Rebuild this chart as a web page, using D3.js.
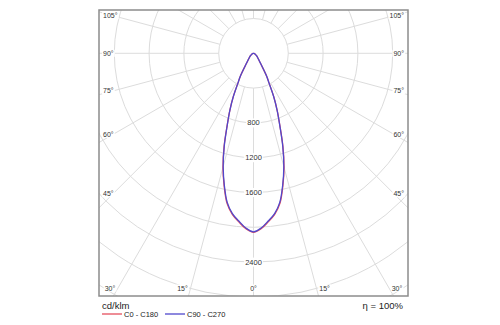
<!DOCTYPE html>
<html><head><meta charset="utf-8">
<script src="https://cdn.jsdelivr.net/npm/d3@7"></script>
<style>body{margin:0;background:#fff}svg{display:block}</style>
</head><body>
<svg id="c" width="500" height="325"></svg>
<script>
// ---- data ----
const angles   = [0, 2.5, 5, 7.5, 10, 12.5, 15, 17.5, 20, 22.5, 25, 27.5, 30, 35, 40, 45, 50, 60, 70, 80, 90];
const c0c180   = [2058, 2018, 1945, 1868, 1752, 1560, 1356, 1125, 888, 712, 550, 392, 298, 140, 90, 65, 48, 25, 12, 5, 0];
const c90c270  = [2052, 2010, 1935, 1858, 1740, 1550, 1346, 1118, 884, 710, 548, 390, 296, 140, 90, 65, 48, 25, 12, 5, 0];
const ringValues  = [400, 800, 1200, 1600, 2000, 2400, 2800, 3200, 3600];
const ringLabels  = [800, 1200, 1600, 2400];
const rayAngles   = d3.range(0, 360, 15);
const bottomLabels = [-30, -15, 0, 15, 30];
const sideLabels   = [45, 60, 75, 90, 105];
const seriesNames  = ["C0 - C180", "C90 - C270"];
const unitLabel = "cd/klm";
const effLabel  = "\u03B7 = 100%";

// ---- layout ----
const svg = d3.select("#c");
const frame = {x: 99, y: 10, w: 309, h: 286};
const cx = frame.x + frame.w / 2, cy = 53.3;
const r = d3.scaleLinear().domain([0, 400]).range([0, 34.8]);
const font = "'Liberation Sans', Arial, sans-serif";
const colors = ["#e5505e", "#5048cc"];
const rad = d => d * Math.PI / 180;

svg.append("rect").attr("width", 500).attr("height", 325).attr("fill", "#fff");
svg.append("clipPath").attr("id", "clip").append("rect")
  .attr("x", frame.x).attr("y", frame.y).attr("width", frame.w).attr("height", frame.h);

const grid = svg.append("g").attr("clip-path", "url(#clip)");
grid.selectAll("circle").data(ringValues).join("circle")
  .attr("cx", cx).attr("cy", cy).attr("r", d => r(d))
  .attr("fill", "none").attr("stroke", "#dcdcdc").attr("stroke-width", 1);
grid.selectAll("line").data(rayAngles).join("line")
  .attr("x1", d => cx + r(400) * Math.sin(rad(d)))
  .attr("y1", d => cy + r(400) * Math.cos(rad(d)))
  .attr("x2", d => cx + r(6000) * Math.sin(rad(d)))
  .attr("y2", d => cy + r(6000) * Math.cos(rad(d)))
  .attr("stroke", "#dcdcdc").attr("stroke-width", 1);

// labels with white background
function label(g, x, y, txt, anchor, size, color) {
  const t = g.append("text").attr("x", x).attr("y", y).attr("text-anchor", anchor)
    .attr("dominant-baseline", "central").attr("font-family", font)
    .attr("font-size", size).attr("fill", color).text(txt);
  const b = t.node().getBBox();
  g.insert("rect", "text").attr("x", b.x - 1).attr("y", b.y).attr("width", b.width + 2)
    .attr("height", b.height).attr("fill", "#fff");
  return t;
}
const lab = svg.append("g");
ringLabels.forEach(v => {
  label(lab.append("g"), cx, cy + r(v), String(v), "middle", 7.5, "#333");
});
// bottom angle labels
const by = frame.y + frame.h - 8;
bottomLabels.forEach(a => {
  const dy = frame.y + frame.h - cy;
  let x = cx + dy * Math.tan(rad(Math.abs(a))) * Math.sign(a) + 6 * Math.sign(a);
  x = Math.max(frame.x + 11, Math.min(frame.x + frame.w - 11, x));
  label(lab.append("g"), x, by, Math.abs(a) + "\u00B0", "middle", 7, "#333");
});
// side angle labels
sideLabels.forEach(a => {
  const dx = cx - (frame.x + 14);
  const y = cy + dx / Math.tan(rad(a));
  label(lab.append("g"), frame.x + 4, y, a + "\u00B0", "start", 7, "#333");
  label(lab.append("g"), frame.x + frame.w - 4, y, a + "\u00B0", "end", 7, "#333");
});

// frame
svg.append("rect").attr("x", frame.x).attr("y", frame.y).attr("width", frame.w).attr("height", frame.h)
  .attr("fill", "none").attr("stroke", "#8c8c8c").attr("stroke-width", 1.5);

// curves
function pts(vals) {
  const p = [];
  for (let i = angles.length - 1; i >= 0; i--) p.push({a: Math.PI + rad(angles[i]), v: vals[i]});
  for (let i = 1; i < angles.length; i++) p.push({a: Math.PI - rad(angles[i]), v: vals[i]});
  return p;
}
const line = d3.lineRadial().angle(d => d.a).radius(d => r(d.v)).curve(d3.curveCatmullRom.alpha(0.5));
const cg = svg.append("g").attr("transform", `translate(${cx},${cy})`);
[c0c180, c90c270].forEach((vals, i) => {
  cg.append("path").attr("d", line(pts(vals))).attr("fill", "none")
    .attr("stroke", colors[i]).attr("stroke-width", 1.3);
});

// legend
svg.append("text").attr("x", 102).attr("y", 305).attr("dominant-baseline", "central")
  .attr("font-family", font).attr("font-size", 9.5).attr("fill", "#222").text(unitLabel);
svg.append("text").attr("x", 403).attr("y", 305).attr("text-anchor", "end").attr("dominant-baseline", "central")
  .attr("font-family", font).attr("font-size", 9.5).attr("fill", "#222").text(effLabel);
const legX = [102, 165];
seriesNames.forEach((n, i) => {
  svg.append("line").attr("x1", legX[i]).attr("x2", legX[i] + 20).attr("y1", 314).attr("y2", 314)
    .attr("stroke", colors[i]).attr("stroke-width", 1.3);
  svg.append("text").attr("x", legX[i] + 22).attr("y", 314).attr("dominant-baseline", "central")
    .attr("font-family", font).attr("font-size", 7.5).attr("fill", "#222").text(n);
});
</script>
</body></html>
